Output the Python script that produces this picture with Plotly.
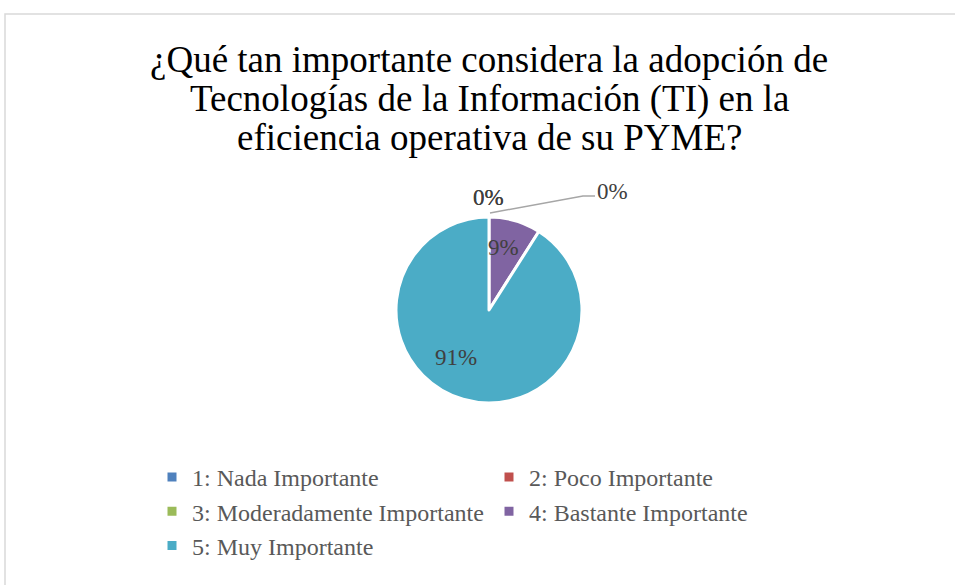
import plotly.graph_objects as go

categories = ["1: Nada Importante", "2: Poco Importante", "3: Moderadamente Importante",
              "4: Bastante Importante", "5: Muy Importante"]
values = [0, 0, 0, 9, 91]
colors = ["#4F81BD", "#C0504D", "#9BBB59", "#8064A2", "#4BACC6"]
title_lines = ["¿Qué tan importante considera la adopción de",
               "Tecnologías de la Información (TI) en la",
               "eficiencia operativa de su PYME?"]

W, H = 955, 585
cx, cy, R = 489, 310, 93
SERIF = "Liberation Serif, Times New Roman, serif"

def px(x):
    return x / W

def py(y):
    return 1 - y / H

fig = go.Figure(go.Pie(
    labels=categories, values=values, sort=False, direction="clockwise", rotation=0,
    marker=dict(colors=colors, line=dict(color="white", width=3)),
    textinfo="none", hoverinfo="label+percent",
    domain=dict(x=[px(cx - R), px(cx + R)], y=[py(cy + R), py(cy - R)]),
))

lab_font = dict(family=SERIF, size=23, color="#404040")
ann = [
    dict(x=px(488), y=py(197.5), text=f"{values[0]}%", font=lab_font),
    dict(x=px(488), y=py(197.5), text=f"{values[1]}%", font=lab_font),
    dict(x=px(612), y=py(191.5), text=f"{values[2]}%", font=lab_font),
    dict(x=px(503.5), y=py(247.5), text=f"{values[3]}%", font=lab_font),
    dict(x=px(456), y=py(357.5), text=f"{values[4]}%", font=lab_font),
]
title_font = dict(family=SERIF, size=37, color="#000000")
for i, line in enumerate(title_lines):
    ann.append(dict(x=px(489), y=py(59.5 + 39 * i), text=line, font=title_font))
for a in ann:
    a.update(xref="paper", yref="paper", showarrow=False,
             xanchor="center", yanchor="middle")

fig.update_layout(
    width=W, height=H,
    margin=dict(l=0, r=0, t=0, b=0, autoexpand=False),
    paper_bgcolor="white",
    font=dict(family=SERIF),
    annotations=ann,
    shapes=[
        dict(type="rect", xref="paper", yref="paper", x0=px(5), x1=1.01, y0=-0.01, y1=py(14),
             line=dict(color="#D9D9D9", width=1.5), fillcolor="rgba(0,0,0,0)", layer="below"),
        dict(type="path", xref="paper", yref="paper",
             path=f"M {px(490)} {py(213)} L {px(583)} {py(196)} L {px(595)} {py(196)}",
             line=dict(color="#A6A6A6", width=1.5)),
    ],
    showlegend=True,
    legend=dict(orientation="h", x=px(152), xanchor="left", y=py(455), yanchor="top",
                entrywidth=292, entrywidthmode="pixels", tracegroupgap=0,
                font=dict(family=SERIF, size=24, color="#595959"),
                bgcolor="rgba(0,0,0,0)"),
)

fig.write_html("out.html", config={"displayModeBar": False},
               post_script="document.body.style.margin='0';")
